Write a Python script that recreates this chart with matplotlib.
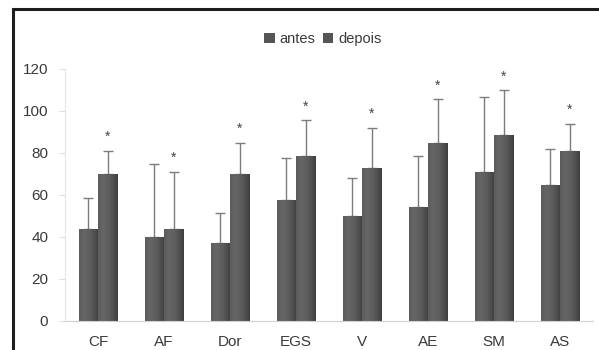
import matplotlib
matplotlib.use("Agg")
import matplotlib.pyplot as plt
import numpy as np
from matplotlib.patches import Rectangle

categories = ["CF", "AF", "Dor", "EGS", "V", "AE", "SM", "AS"]
antes = [44, 40, 37, 57.5, 50, 54.5, 71, 65]
depois = [70, 44, 70, 78.5, 73, 85, 88.5, 81]
antes_err = [14.5, 35, 14.5, 20, 18, 24, 35.5, 17]
depois_err = [11, 27, 15, 17, 19, 20.5, 21.5, 13]
yticks = [0, 20, 40, 60, 80, 100, 120]

plt.rcParams['font.family'] = ['Liberation Sans', 'DejaVu Sans']

fig = plt.figure(figsize=(5.99, 3.5), dpi=100)
fig.patch.set_facecolor('white')
W, H = 599, 350
ax = fig.add_axes([65 / W, 1 - 321 / H, (593 - 65) / W, (321 - 69) / H])

x = np.arange(len(categories))
bw = 0.295
bar_color = '#5a5a5a'
b1 = ax.bar(x - bw / 2, antes, bw, color=bar_color, linewidth=0, label='antes', zorder=2)
b2 = ax.bar(x + bw / 2, depois, bw, color=bar_color, linewidth=0, label='depois', zorder=2)

# gradient shading on bars (lighter left, darker right)
g = np.linspace(0, 1, 64)
shade = np.interp(g, [0, 0.25, 0.6, 0.9, 1.0], [0.36, 0.40, 0.36, 0.28, 0.24])
img = np.tile(shade, (2, 1))
for patch in list(b1) + list(b2):
    x0, y0 = patch.get_x(), patch.get_y()
    w, h = patch.get_width(), patch.get_height()
    im = ax.imshow(img, cmap='gray', vmin=0, vmax=1, aspect='auto',
                   extent=[x0, x0 + w, y0, y0 + h], zorder=2.1, interpolation='bilinear')
    im.set_clip_path(patch)

ax.errorbar(x - bw / 2, antes, yerr=[np.zeros(len(antes)), antes_err], fmt='none',
            ecolor='#7c7c7c', elinewidth=1.0, capsize=3.5, capthick=1.0, zorder=1.5)
ax.errorbar(x + bw / 2, depois, yerr=[np.zeros(len(depois)), depois_err], fmt='none',
            ecolor='#7c7c7c', elinewidth=1.0, capsize=3.5, capthick=1.0, zorder=1.5)

for xi, d, e in zip(x, depois, depois_err):
    ax.text(xi + bw / 2, d + e + 6.5, '*', ha='center', va='center', fontsize=10, color='#444444')

ax.set_xlim(-0.5, len(categories) - 0.5)
ax.set_ylim(0, 120)
ax.set_yticks(yticks)
ax.set_xticks(x)
ax.set_xticklabels(categories)
ax.tick_params(axis='y', length=4, color='#dddddd', pad=8, labelsize=11, labelcolor='#3a3a3a')
ax.tick_params(axis='x', length=0, pad=10, labelsize=11, labelcolor='#3a3a3a')
for s in ['top', 'right']:
    ax.spines[s].set_visible(False)
ax.spines['left'].set_color('#e6e6e6')
ax.spines['bottom'].set_color('#d0d0d0')

leg = ax.legend(loc='upper center', bbox_to_anchor=(0.5 - 6 / 528, 1 + 50 / 252), ncol=2, frameon=False,
                fontsize=10.5, handlelength=0.7, handleheight=0.7, handletextpad=0.35, columnspacing=0.5,
                labelcolor='#3a3a3a')
for h in leg.legend_handles:
    h.set_color('#555555')

fig.add_artist(Rectangle((12.5 / W, -0.1), 1.2, 1 - 9.5 / H + 0.1, transform=fig.transFigure,
                         fill=False, edgecolor='#1e1e1e', linewidth=2.2))

fig.savefig('out.png', dpi=100, facecolor='white')
